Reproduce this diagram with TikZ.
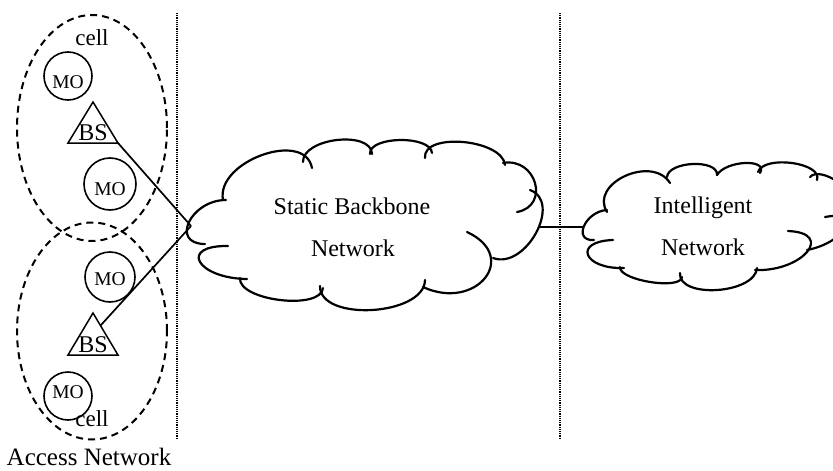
\documentclass[tikz,border=0pt]{standalone}
\usepackage{fontspec}
\setmainfont{Liberation Serif}
\usetikzlibrary{calc,shapes.geometric}

% one puff of a cloud: start, middle point, end (the curve passes through all three)
\newcommand\puff[3]{%
  \draw[cloudline] (#1) .. controls ($1/3*(#1)+4/3*(#2)-2/3*(#3)$)
    and ($1/3*(#3)+4/3*(#2)-2/3*(#1)$) .. (#3);}

\tikzset{
  cloudline/.style={line width=2.2pt, line cap=round},
  cellbox/.style={ellipse, draw, dashed, dash pattern=on 7pt off 5pt,
    line width=2pt, minimum width=150pt, inner sep=0pt},
  mobile/.style={circle, draw, line width=1.6pt, inner sep=0pt},
  lbl/.style={anchor=base, inner sep=0pt},
  link/.style={line width=1.7pt},
  divider/.style={line width=1.4pt, dash pattern=on 1.2pt off 1pt},
  bsedge/.style={line width=1.5pt, line join=miter}
}

\begin{document}
\begin{tikzpicture}[x=1pt, y=-1pt]
\useasboundingbox (0,0) rectangle (833,471);

% zone dividers
\coordinate (dL1) at (177,13);
\coordinate (dL2) at (177,438);
\coordinate (dR1) at (560,13);
\coordinate (dR2) at (560,438);
\draw[divider] (dL1) -- (dL2);
\draw[divider] (dR1) -- (dR2);

% radio cells
\node[cellbox, minimum height=226pt] (cellA) at (92,128) {};
\node[cellbox, minimum height=217pt] (cellB) at (92,331) {};
\node[lbl, font=\fontsize{23}{23}\selectfont] (cellAt) at (92,45) {cell};
\node[lbl, font=\fontsize{23}{23}\selectfont] (cellBt) at (92,426) {cell};

% mobiles
\node[mobile, minimum size=48pt] (mo1) at (68,76) {};
\node[mobile, minimum size=52pt] (mo2) at (110,184) {};
\node[mobile, minimum size=50pt] (mo3) at (110,277) {};
\node[mobile, minimum size=48pt] (mo4) at (68,396) {};
\node[lbl, font=\fontsize{19.5}{19.5}\selectfont] (mo1t) at (68,88) {MO};
\node[lbl, font=\fontsize{19.5}{19.5}\selectfont] (mo2t) at (110,195) {MO};
\node[lbl, font=\fontsize{19.5}{19.5}\selectfont] (mo3t) at (110,285) {MO};
\node[lbl, font=\fontsize{19.5}{19.5}\selectfont] (mo4t) at (68,398) {MO};

% base stations
\coordinate (bsA1) at (93,102);
\coordinate (bsA2) at (68,143);
\coordinate (bsA3) at (118,143);
\coordinate (bsB1) at (93,313);
\coordinate (bsB2) at (68,355);
\coordinate (bsB3) at (118,355);
\draw[bsedge] (bsA1) -- (bsA2) -- (bsA3) -- cycle;
\draw[bsedge] (bsB1) -- (bsB2) -- (bsB3) -- cycle;
\node[lbl, font=\fontsize{24}{24}\selectfont] (bsAt) at (93,140) {BS};
\node[lbl, font=\fontsize{24}{24}\selectfont] (bsBt) at (93,352) {BS};

% static backbone cloud
\puff{226,200}{189,222}{205,244}
\puff{223,200}{262,155}{312,168}
\puff{303,162}{337,140}{372,154}
\puff{370,154}{400,140}{432,153}
\puff{425,158}{463,142}{505,165}
\puff{503,163}{535,183}{517,212}
\puff{530,190}{536,233}{493,258}
\puff{467,232}{485,278}{423,287}
\puff{425,280}{372,310}{320,286}
\puff{323,288}{280,300}{240,278}
\puff{247,279}{200,262}{228,246}
\node[lbl, font=\fontsize{24}{24}\selectfont] (sbn1) at (352,214) {Static Backbone};
\node[lbl, font=\fontsize{24}{24}\selectfont] (sbn2) at (353,256) {Network};
\coordinate (sbnL) at (191,226);
\coordinate (sbnR) at (539,227);

% intelligent network cloud
\puff{607,210}{584,226}{594,240}
\puff{607,212}{625,176}{670,183}
\puff{667,177}{693,164}{717,175}
\puff{717,175}{745,163}{760,173}
\puff{758,172}{792,163}{817,180}
\puff{810,177}{838,182}{850,205}
\puff{825,217}{845,228}{807,250}
\puff{788,231}{807,252}{755,270}
\puff{757,268}{717,290}{680,273}
\puff{682,277}{650,282}{620,267}
\puff{624,268}{588,255}{613,240}
\node[lbl, font=\fontsize{24}{24}\selectfont] (in1) at (703,213) {Intelligent};
\node[lbl, font=\fontsize{24}{24}\selectfont] (in2) at (703,255) {Network};
\coordinate (inL) at (584,227);

% links
\draw[link] (bsA3) -- (sbnL);
\draw[link] ($(bsB1)!0.3!(bsB3)$) -- (sbnL);
\draw[link] (sbnR) -- (inL);

\node[lbl, font=\fontsize{25}{25}\selectfont] (access) at (89,465) {Access Network};
\end{tikzpicture}
\end{document}
